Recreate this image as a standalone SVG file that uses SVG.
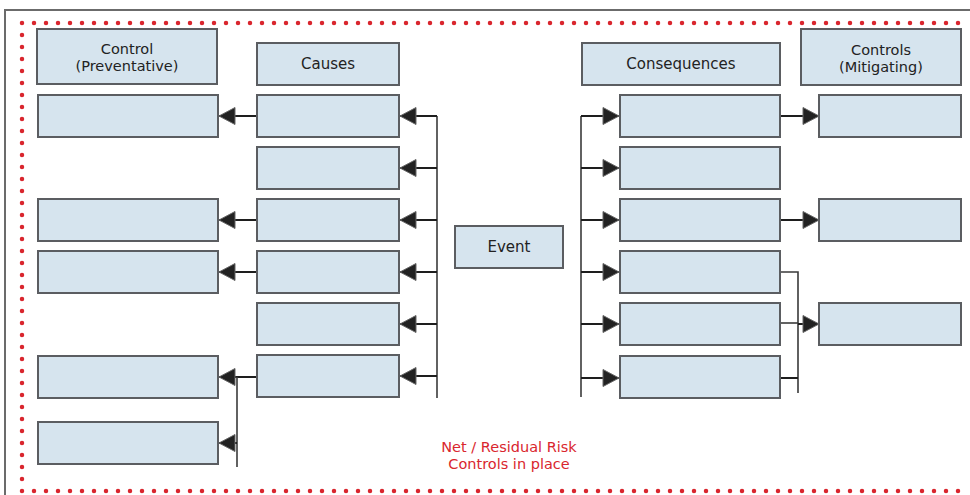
<svg xmlns="http://www.w3.org/2000/svg" width="970" height="495" viewBox="0 0 970 495">
  <style>
    .box { fill: #d6e4ee; stroke: #5b5d61; stroke-width: 2; }
    .lbl { font-family: "DejaVu Sans", Verdana, sans-serif; font-size: 15px; fill: #222; text-anchor: middle; }
    .lbl2 { font-family: "DejaVu Sans", Verdana, sans-serif; font-size: 14.5px; fill: #222; text-anchor: middle; }
    .note { font-family: "DejaVu Sans", Verdana, sans-serif; font-size: 14.5px; fill: #d9262e; text-anchor: middle; }
    .link { stroke: #1e1e1e; stroke-width: 2; fill: none; }
    .bus { stroke: #3a3a3a; stroke-width: 1.6; fill: none; }
    .dots { stroke: #d9262e; stroke-width: 4.5; stroke-linecap: round; stroke-dasharray: 0 12; fill: none; }
  </style>
  <defs>
    <marker id="arrow" viewBox="0 0 18 18" refX="17" refY="9" markerWidth="18" markerHeight="18" markerUnits="userSpaceOnUse" orient="auto">
      <path d="M1,0.5 L17,9 L1,17.5 z" fill="#222" stroke="#666" stroke-width="1"/>
    </marker>
  </defs>

  <rect width="970" height="495" fill="#ffffff"/>

  <!-- frame -->
  <path d="M5,495 V10 H970" fill="none" stroke="#6b6b6b" stroke-width="2"/>
  <path class="dots" d="M22,23 H960 M22,23 V491 M22,491 H960"/>

  <!-- connectors -->
  <g id="connectors">
    <!-- event to causes -->
    <path class="bus" d="M437,116 V398"/>
    <path class="link" d="M437,116 H400" marker-end="url(#arrow)"/>
    <path class="link" d="M437,168 H400" marker-end="url(#arrow)"/>
    <path class="link" d="M437,220 H400" marker-end="url(#arrow)"/>
    <path class="link" d="M437,272 H400" marker-end="url(#arrow)"/>
    <path class="link" d="M437,324 H400" marker-end="url(#arrow)"/>
    <path class="link" d="M437,376 H400" marker-end="url(#arrow)"/>
    <!-- causes to preventative controls -->
    <path class="link" d="M257,116 H219" marker-end="url(#arrow)"/>
    <path class="link" d="M257,220 H219" marker-end="url(#arrow)"/>
    <path class="link" d="M257,272 H219" marker-end="url(#arrow)"/>
    <path class="link" d="M257,377 H219" marker-end="url(#arrow)"/>
    <path class="bus" d="M237,377 V467"/>
    <path class="link" d="M237,443 H219" marker-end="url(#arrow)"/>
    <!-- event to consequences -->
    <path class="bus" d="M581,116 V397"/>
    <path class="link" d="M581,116 H619" marker-end="url(#arrow)"/>
    <path class="link" d="M581,168 H619" marker-end="url(#arrow)"/>
    <path class="link" d="M581,220 H619" marker-end="url(#arrow)"/>
    <path class="link" d="M581,272 H619" marker-end="url(#arrow)"/>
    <path class="link" d="M581,324 H619" marker-end="url(#arrow)"/>
    <path class="link" d="M581,378 H619" marker-end="url(#arrow)"/>
    <!-- consequences to mitigating controls -->
    <path class="link" d="M780,116 H819" marker-end="url(#arrow)"/>
    <path class="link" d="M780,220 H819" marker-end="url(#arrow)"/>
    <path class="bus" d="M780,272 H798 V393"/>
    <path class="bus" d="M780,323 H798"/>
    <path class="link" d="M780,378 H798"/>
    <path class="link" d="M798,324 H819" marker-end="url(#arrow)"/>
  </g>

  <!-- preventative controls -->
  <g id="hdr-control">
    <rect class="box" x="37" y="29" width="180" height="55"/>
    <text class="lbl2" x="127" y="54">Control</text>
    <text class="lbl2" x="127" y="71">(Preventative)</text>
  </g>
  <g id="control-1"><rect class="box" x="38" y="95" width="180" height="42"/></g>
  <g id="control-2"><rect class="box" x="38" y="199" width="180" height="42"/></g>
  <g id="control-3"><rect class="box" x="38" y="251" width="180" height="42"/></g>
  <g id="control-4"><rect class="box" x="38" y="356" width="180" height="42"/></g>
  <g id="control-5"><rect class="box" x="38" y="422" width="180" height="42"/></g>

  <!-- causes -->
  <g id="hdr-causes">
    <rect class="box" x="257" y="43" width="142" height="42"/>
    <text class="lbl" x="328" y="69">Causes</text>
  </g>
  <g id="cause-1"><rect class="box" x="257" y="95" width="142" height="42"/></g>
  <g id="cause-2"><rect class="box" x="257" y="147" width="142" height="42"/></g>
  <g id="cause-3"><rect class="box" x="257" y="199" width="142" height="42"/></g>
  <g id="cause-4"><rect class="box" x="257" y="251" width="142" height="42"/></g>
  <g id="cause-5"><rect class="box" x="257" y="303" width="142" height="42"/></g>
  <g id="cause-6"><rect class="box" x="257" y="355" width="142" height="42"/></g>

  <!-- event -->
  <g id="event">
    <rect class="box" x="455" y="226" width="108" height="42"/>
    <text class="lbl" x="509" y="252">Event</text>
  </g>

  <!-- consequences -->
  <g id="hdr-consequences">
    <rect class="box" x="582" y="43" width="198" height="42"/>
    <text class="lbl" x="681" y="69">Consequences</text>
  </g>
  <g id="consequence-1"><rect class="box" x="620" y="95" width="160" height="42"/></g>
  <g id="consequence-2"><rect class="box" x="620" y="147" width="160" height="42"/></g>
  <g id="consequence-3"><rect class="box" x="620" y="199" width="160" height="42"/></g>
  <g id="consequence-4"><rect class="box" x="620" y="251" width="160" height="42"/></g>
  <g id="consequence-5"><rect class="box" x="620" y="303" width="160" height="42"/></g>
  <g id="consequence-6"><rect class="box" x="620" y="356" width="160" height="42"/></g>

  <!-- mitigating controls -->
  <g id="hdr-mitigating">
    <rect class="box" x="801" y="29" width="160" height="56"/>
    <text class="lbl2" x="881" y="55">Controls</text>
    <text class="lbl2" x="881" y="72">(Mitigating)</text>
  </g>
  <g id="mitigating-1"><rect class="box" x="819" y="95" width="142" height="42"/></g>
  <g id="mitigating-2"><rect class="box" x="819" y="199" width="142" height="42"/></g>
  <g id="mitigating-3"><rect class="box" x="819" y="303" width="142" height="42"/></g>

  <!-- footnote -->
  <g id="note">
    <text class="note" x="509" y="452">Net / Residual Risk</text>
    <text class="note" x="509" y="469">Controls in place</text>
  </g>
</svg>
